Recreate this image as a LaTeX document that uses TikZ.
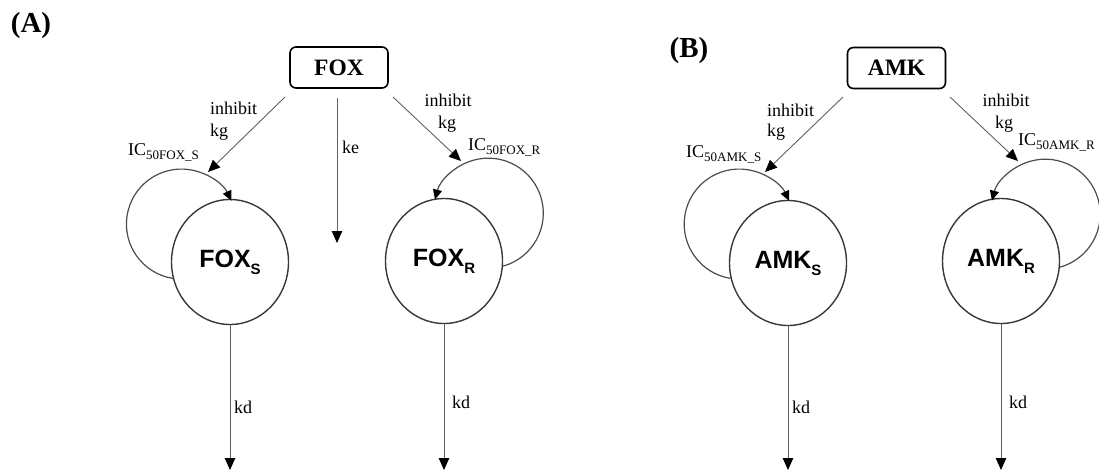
\documentclass[tikz,border=0pt]{standalone}
\usepackage{fontspec}
\setmainfont{Liberation Serif}
\newfontfamily\lsans{Liberation Sans}
\usetikzlibrary{arrows.meta,shapes.geometric}
\newcommand{\csub}[1]{\raisebox{-0.28em}{\fontsize{15}{18}\selectfont #1}}
\newcommand{\icsub}[1]{IC\raisebox{-0.25em}{\fontsize{13}{15}\selectfont #1}}
\tikzset{
  conn/.style={draw=black!62, line width=0.9pt, -{Triangle[length=12pt,width=10.5pt,color=black]}},
  loopc/.style={draw=black!70, line width=1.2pt, -{Triangle[length=10pt,width=9pt,color=black]}},
  comp/.style={ellipse, draw=black!78, line width=1.4pt, minimum width=117pt, minimum height=125pt, inner sep=0pt, font=\lsans\bfseries\fontsize{25}{30}\selectfont},
  drug/.style={draw, line width=1.6pt, rounded corners=6pt, minimum width=98pt, minimum height=41pt, inner sep=0pt, font=\bfseries\fontsize{23.5}{27}\selectfont},
  lab/.style={font=\fontsize{18}{21}\selectfont, inner sep=0pt},
  panel/.style={font=\bfseries\fontsize{29}{33}\selectfont, inner sep=0pt}
}
\begin{document}
\begin{tikzpicture}[x=1pt,y=1pt]
\useasboundingbox (0,0) rectangle (1099,-471);
% ---------------- Panel A ----------------
\node[panel] (pa) at (31,-26) {(A)};
\node[drug] (fox) at (339,-67.5) {FOX};
\node[comp] (fs) at (230,-262) {FOX\csub{S}};
\node[comp] (fr) at (444,-261) {FOX\csub{R}};
\coordinate (fa1) at (285,-97);
\coordinate (fa2) at (208,-172);
\coordinate (fb1) at (393,-97);
\coordinate (fb2) at (461,-161);
\coordinate (ke1) at (337,-98);
\coordinate (ke2) at (337,-243);
\coordinate (kds) at (230,-470);
\coordinate (kdr) at (444,-470);
\draw[conn] (fa1) -- (fa2);
\draw[conn] (fb1) -- (fb2);
\draw[conn] (ke1) -- (ke2);
\draw[conn] (fs.south) -- (kds);
\draw[conn] (fr.south) -- (kdr);
\draw[loopc] (fs.196) arc[start angle=261, end angle=25, radius=55];
\draw[loopc] (fr.-5) arc[start angle=-74.5, end angle=165.7, radius=55];
\node[lab, anchor=base west] (ia) at (210,-114) {inhibit};
\node[lab, anchor=base west] (kga) at (210,-136) {kg};
\node[lab, anchor=base] (ib) at (448,-106) {inhibit};
\node[lab, anchor=base] (kgb) at (447,-128) {kg};
\node[lab, anchor=base west] (ics) at (128,-155) {\icsub{50FOX\_S}};
\node[lab, anchor=base west] (icr) at (468,-150) {\icsub{50FOX\_R}};
\node[lab, anchor=base west] (kel) at (342,-153) {ke};
\node[lab, anchor=base west] (kdl1) at (234,-413) {kd};
\node[lab, anchor=base west] (kdl2) at (452,-408) {kd};
% ---------------- Panel B ----------------
\node[panel] (pb) at (689,-51) {(B)};
\node[drug] (amk) at (896.5,-68) {AMK};
\node[comp] (as) at (788,-263) {AMK\csub{S}};
\node[comp] (ar) at (1001,-261) {AMK\csub{R}};
\coordinate (aa1) at (843,-97);
\coordinate (aa2) at (765,-172);
\coordinate (ab1) at (950,-97);
\coordinate (ab2) at (1018,-161);
\coordinate (kdas) at (788,-470);
\coordinate (kdar) at (1001,-470);
\draw[conn] (aa1) -- (aa2);
\draw[conn] (ab1) -- (ab2);
\draw[conn] (as.south) -- (kdas);
\draw[conn] (ar.south) -- (kdar);
\draw[loopc] (as.195) arc[start angle=261, end angle=25, radius=55];
\draw[loopc] (ar.-6) arc[start angle=-74.5, end angle=165.7, radius=55];
\node[lab, anchor=base west] (iaa) at (767,-116) {inhibit};
\node[lab, anchor=base west] (kgaa) at (767,-136) {kg};
\node[lab, anchor=base] (iab) at (1006,-106) {inhibit};
\node[lab, anchor=base] (kgab) at (1004,-128) {kg};
\node[lab, anchor=base west] (icas) at (686,-157) {\icsub{50AMK\_S}};
\node[lab, anchor=base west] (icar) at (1018,-145) {\icsub{50AMK\_R}};
\node[lab, anchor=base west] (kdl3) at (792,-413) {kd};
\node[lab, anchor=base west] (kdl4) at (1009,-408) {kd};
\end{tikzpicture}
\end{document}
